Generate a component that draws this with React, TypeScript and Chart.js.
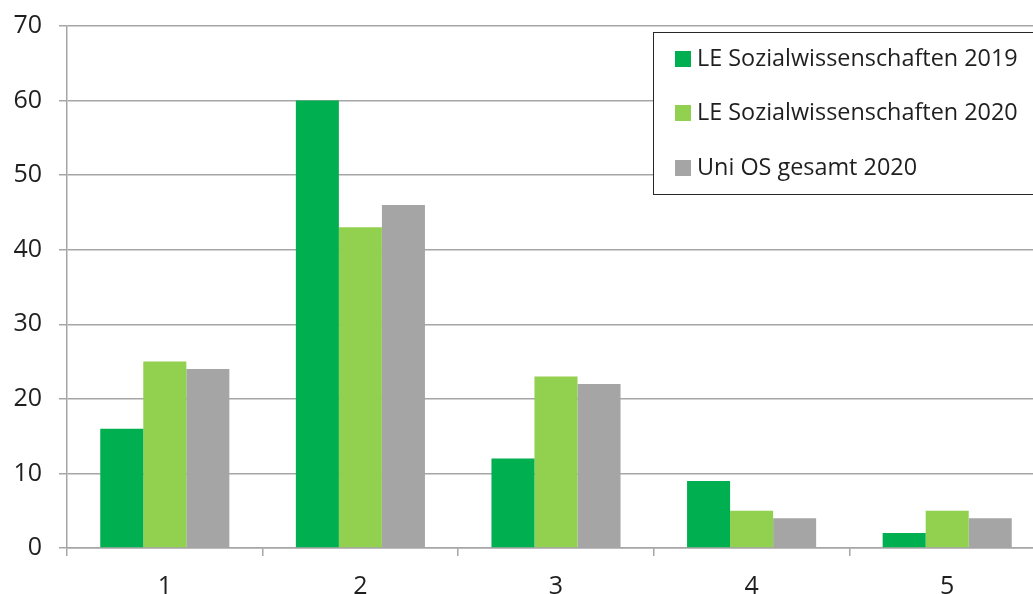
import React, { useEffect, useRef } from "react";
import { Chart, registerables } from "chart.js";

Chart.register(...registerables);

const categories = ["1", "2", "3", "4", "5"];
const seriesLabels = ["LE Sozialwissenschaften 2019", "LE Sozialwissenschaften 2020", "Uni OS gesamt 2020"];
const le2019 = [16, 60, 12, 9, 2];
const le2020 = [25, 43, 23, 5, 5];
const uni2020 = [24, 46, 22, 4, 4];
const colors = ["#00b050", "#92d050", "#a5a5a5"];
const yTicks = [0, 10, 20, 30, 40, 50, 60, 70];

const FONT = "'Open Sans', 'Noto Sans', sans-serif";

const legendPlugin = {
  id: "boxLegend",
  afterDraw(chart: any) {
    const ctx = chart.ctx;
    ctx.save();
    ctx.fillStyle = "#ffffff";
    ctx.fillRect(653, 32, 400, 162);
    ctx.strokeStyle = "#262626";
    ctx.lineWidth = 1;
    ctx.strokeRect(653.5, 32.5, 400, 162);
    const rows = [59, 113, 168];
    chart.data.datasets.forEach((ds: any, i: number) => {
      ctx.fillStyle = ds.backgroundColor;
      ctx.fillRect(675, rows[i] - 8, 16, 16);
      ctx.fillStyle = "#1f1f1f";
      ctx.font = `23.4px ${FONT}`;
      ctx.textBaseline = "middle";
      ctx.textAlign = "left";
      ctx.fillText(ds.label, 697, rows[i]);
    });
    ctx.restore();
  },
};

export default function App() {
  const ref = useRef<HTMLCanvasElement>(null);
  useEffect(() => {
    if (!ref.current) return;
    const chart = new Chart(ref.current, {
      type: "bar",
      data: {
        labels: categories,
        datasets: [le2019, le2020, uni2020].map((d, i) => ({
          label: seriesLabels[i],
          data: d,
          backgroundColor: colors[i],
          borderWidth: 0,
          categoryPercentage: 0.66,
          barPercentage: 1,
        })),
      },
      options: {
        responsive: false,
        animation: false,
        layout: { padding: { top: 26, left: 0, right: 0, bottom: 0 } },
        plugins: { legend: { display: false }, tooltip: { enabled: false } },
        scales: {
          x: {
            grid: { drawOnChartArea: false, drawTicks: true, tickLength: 8, color: "#a6a6a6", lineWidth: 1.5 },
            border: { color: "#a6a6a6", width: 1.5 },
            ticks: { color: "#1f1f1f", font: { family: FONT, size: 25 }, padding: 16 },
            afterFit: (s: any) => { s.height = 46; },
          },
          y: {
            min: 0,
            max: 70,
            afterBuildTicks: (s: any) => { s.ticks = yTicks.map((v) => ({ value: v })); },
            grid: { tickLength: 8, color: "#a6a6a6", lineWidth: 1.5 },
            border: { color: "#a6a6a6", width: 1.5 },
            ticks: { color: "#1f1f1f", font: { family: FONT, size: 25 }, padding: 17 },
            afterFit: (s: any) => { s.width = 67; s.paddingTop = 0; },
          },
        },
      },
      plugins: [legendPlugin],
    });
    return () => chart.destroy();
  }, []);
  return (
    <div style={{ position: "absolute", left: 0, top: 0, width: 1033, height: 594, overflow: "hidden", background: "#fff" }}>
      <canvas ref={ref} width={1045} height={594} style={{ width: 1045, height: 594, display: "block" }} />
    </div>
  );
}
